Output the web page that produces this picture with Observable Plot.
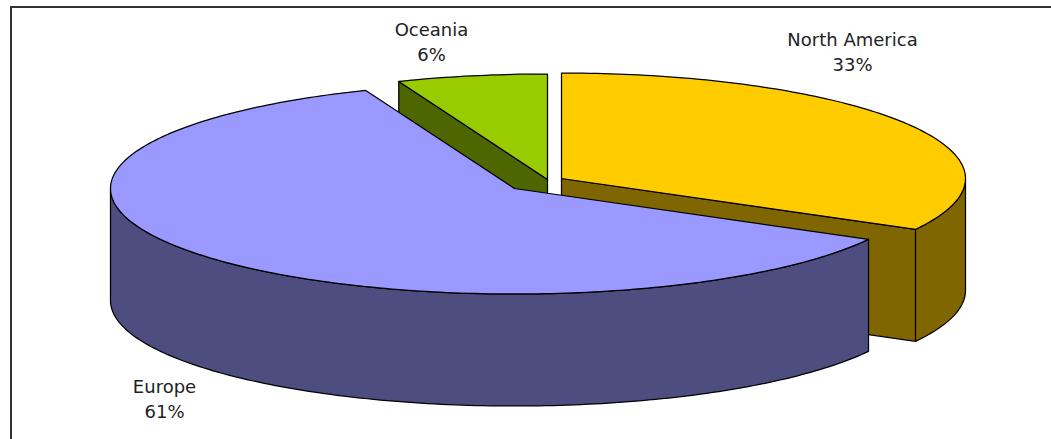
<!DOCTYPE html>
<html>
<head>
<meta charset="utf-8">
<script src="https://cdn.jsdelivr.net/npm/d3@7"></script>
<script src="https://cdn.jsdelivr.net/npm/@observablehq/plot@0.6"></script>
<style>
  html, body { margin: 0; padding: 0; background: #fff; overflow: hidden; }
  svg { display: block; }
</style>
</head>
<body>
<div id="chart"></div>
<script>
// Share of the total by region, in percent, clockwise from twelve o'clock.
const regions = ["North America", "Europe", "Oceania"];
const shares = [33, 61, 6];

// Pie drawing settings: each exploded slice has its own hub on the tilted disc.
const width = 1051, height = 439;
const radiusX = 404, radiusY = 105.5, depth = 112;
const hubs = {
  "North America": [561, 178],
  "Europe": [514, 188],
  "Oceania": [547, 179]
};
const topColors = {"North America": "#FFCC00", "Europe": "#9999FF", "Oceania": "#99CC00"};
const wallColors = {"North America": "#806600", "Europe": "#4D4D80", "Oceania": "#4D6600"};
const labelAnchors = {"North America": [852, 50], "Europe": [164, 397], "Oceania": [431, 40]};

// Start and end angle of each slice, in degrees.
let running = 0;
const slices = regions.map((name, i) => {
  const start = running * 3.6;
  running += shares[i];
  return {name, share: shares[i], start, end: running * 3.6, hub: hubs[name]};
});
const byName = Object.fromEntries(slices.map(s => [s.name, s]));

const rim = (s, deg, drop = 0) => {
  const a = deg * Math.PI / 180;
  return {x: s.hub[0] + radiusX * Math.sin(a), y: s.hub[1] - radiusY * Math.cos(a) + drop};
};
const hub = (s, drop = 0) => ({x: s.hub[0], y: s.hub[1] + drop});
const arc = (s, from, to, drop = 0) => {
  const n = Math.max(2, Math.ceil(Math.abs(to - from)));
  return d3.range(n + 1).map(i => rim(s, from + (to - from) * i / n, drop));
};
const closed = pts => [...pts, pts[0]];

// Outline pieces: the flat top, the curved outer wall and the straight cut wall.
const topFace = s => closed([hub(s), ...arc(s, s.start, s.end)]);
const outerWall = (s, from, to) => closed([...arc(s, from, to), ...arc(s, to, from, depth)]);
const cutWall = (s, deg) => closed([hub(s), rim(s, deg), rim(s, deg, depth), hub(s, depth)]);

const face = (pts, fill) => Plot.line(pts, {x: "x", y: "y", fill, stroke: "#000", strokeWidth: 1.25, curve: "linear"});

const na = byName["North America"], eu = byName["Europe"], oc = byName["Oceania"];

const chart = Plot.plot({
  width, height,
  margin: 0,
  x: {domain: [0, width], range: [0, width], axis: null},
  y: {domain: [0, height], range: [0, height], axis: null},
  marks: [
    // Chart area border, open on the right and at the bottom.
    Plot.ruleY([6.5], {stroke: "#333", strokeWidth: 2, x1: 10, x2: width}),
    Plot.ruleX([10.5], {stroke: "#333", strokeWidth: 2, y1: 6, y2: height}),

    // Back to front: Oceania, North America, then Europe on top.
    face(cutWall(oc, oc.start), wallColors.Oceania),
    face(topFace(oc), topColors.Oceania),

    face(cutWall(na, na.end), wallColors["North America"]),
    face(outerWall(na, 90, na.end), wallColors["North America"]),
    face(topFace(na), topColors["North America"]),

    face(outerWall(eu, eu.start, 270), wallColors.Europe),
    face(topFace(eu), topColors.Europe),

    Plot.text(slices, {
      x: d => labelAnchors[d.name][0],
      y: d => labelAnchors[d.name][1],
      text: d => `${d.name}\n${d.share}%`,
      textAnchor: "middle",
      lineAnchor: "middle",
      lineHeight: 1.36,
      fontSize: 18,
      fontFamily: "DejaVu Sans",
      fill: "#222"
    })
  ]
});
document.getElementById("chart").append(chart);
</script>
</body>
</html>
